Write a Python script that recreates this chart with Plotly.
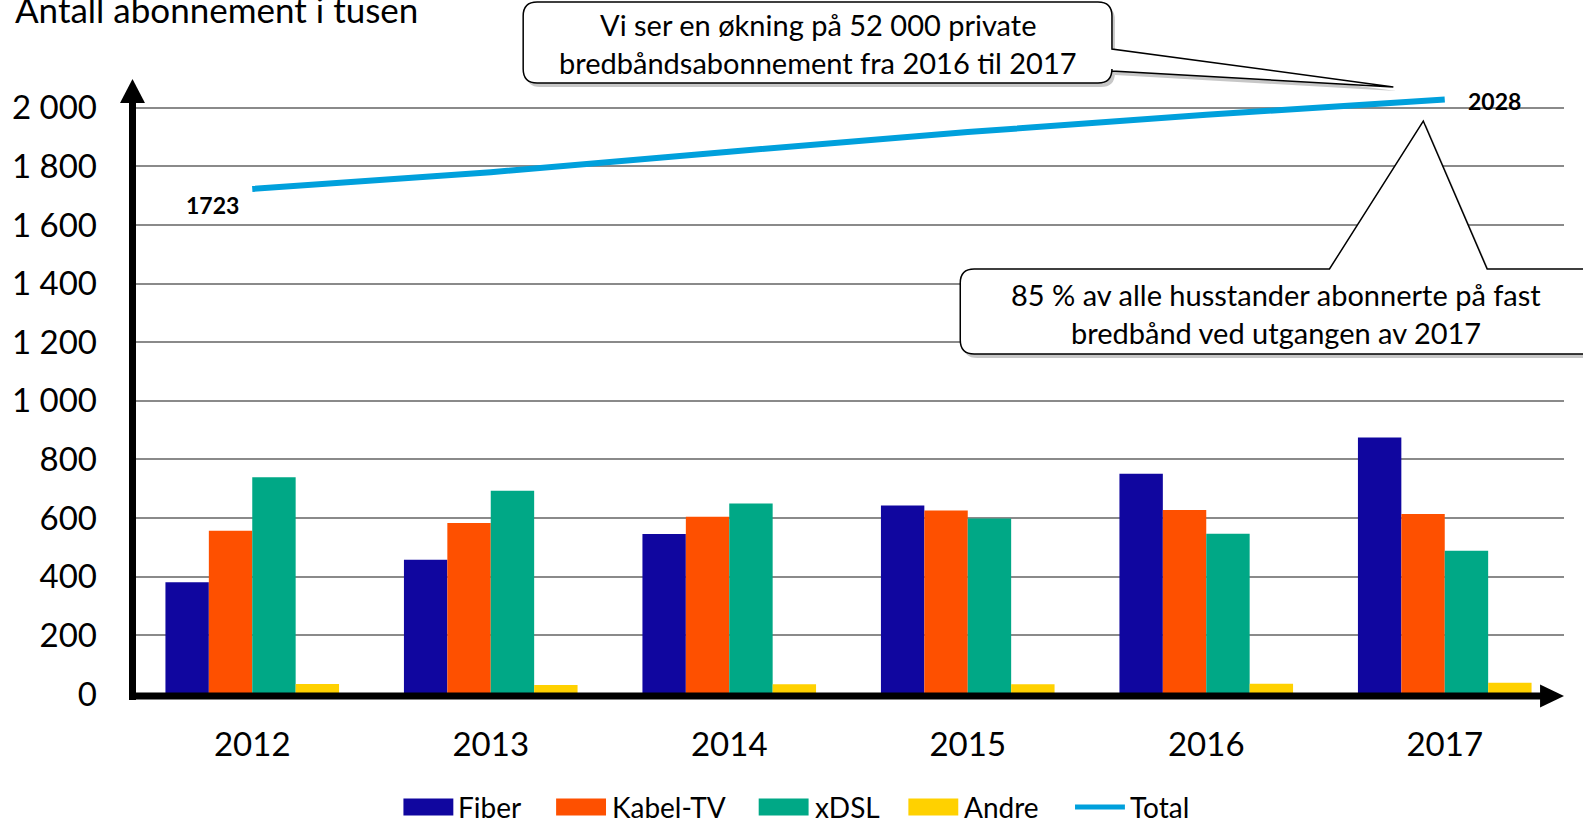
import plotly.graph_objects as go

# ---------------- data ----------------
years = ["2012", "2013", "2014", "2015", "2016", "2017"]
fiber = [381, 458, 546, 643, 751, 875]
kabel_tv = [557, 583, 605, 626, 628, 614]
xdsl = [739, 693, 650, 599, 547, 489]
andre = [34, 31, 33, 33, 35, 38]
total = [1723, 1780, 1850, 1917, 1976, 2028]

y_tickvals = [0, 200, 400, 600, 800, 1000, 1200, 1400, 1600, 1800, 2000]
y_ticktext = ["0", "200", "400", "600", "800", "1 000", "1 200", "1 400", "1 600", "1 800", "2 000"]

series_names = ["Fiber", "Kabel-TV", "xDSL", "Andre"]
series_values = [fiber, kabel_tv, xdsl, andre]
series_colors = ["#10069F", "#FE5000", "#00A886", "#FFD100"]
total_color = "#00A0DC"

title_text = "Antall abonnement i tusen"
callout1 = ["Vi ser en økning på 52 000 private", "bredbåndsabonnement fra 2016 til 2017"]
callout2 = ["85 % av alle husstander abonnerte på fast", "bredbånd ved utgangen av 2017"]

FONT = "Lato"

# ---------------- layout geometry (pixels) ----------------
WIDTH, HEIGHT = 1583, 822
L, R, T, B = 130, 19, 79, 128
W = WIDTH - L - R
H = HEIGHT - T - B
Y_TOP = 2000 * H / (HEIGHT - B - 107.7)


def px(x):
    return (x - L) / W


def py(y):
    return (HEIGHT - B - y) / H


def path(points_cmds):
    out = []
    for cmd in points_cmds:
        if cmd[0] == "Z":
            out.append("Z")
        elif cmd[0] == "Q":
            _, x1, y1, x2, y2 = cmd
            out.append(f"Q{px(x1):.5f},{py(y1):.5f} {px(x2):.5f},{py(y2):.5f}")
        else:
            c, x, y = cmd
            out.append(f"{c}{px(x):.5f},{py(y):.5f}")
    return " ".join(out)


fig = go.Figure()

for name, vals, col in zip(series_names, series_values, series_colors):
    fig.add_trace(go.Bar(
        x=years, y=vals, name=name, marker=dict(color=col, line=dict(width=0)),
        showlegend=False,
    ))

fig.add_trace(go.Scatter(
    x=years, y=total, name="Total", mode="lines",
    line=dict(color=total_color, width=6),
    showlegend=False,
))

shapes = []

r = 14


def box1(dx=0, dy=0):
    l, rr, t, b = 521 + dx, 1111 + dx, 2 + dy, 83 + dy
    return path([
        ("M", l + r, t), ("L", rr - r, t), ("Q", rr, t, rr, t + r),
        ("L", rr, 49 + dy), ("L", 1393 + dx, 87 + dy), ("L", rr, 71 + dy),
        ("L", rr, b - r), ("Q", rr, b, rr - r, b), ("L", l + r, b),
        ("Q", l, b, l, b - r), ("L", l, t + r), ("Q", l, t, l + r, t), ("Z",),
    ])


def box2(dx=0, dy=0):
    l, rr, t, b = 959 + dx, 1600, 269 + dy, 354 + dy
    return path([
        ("M", l + r, t), ("L", 1329 + dx, t), ("L", 1423 + dx, 121 + dy),
        ("L", 1487 + dx, t), ("L", rr, t), ("L", rr, b), ("L", l + r, b),
        ("Q", l, b, l, b - r), ("L", l, t + r), ("Q", l, t, l + r, t), ("Z",),
    ])


for fn in (box1, box2):
    shapes.append(dict(type="path", xref="paper", yref="paper", path=fn(3, 4),
                       fillcolor="rgba(0,0,0,0.22)", line=dict(width=0), layer="above"))
    shapes.append(dict(type="path", xref="paper", yref="paper", path=fn(),
                       fillcolor="white", line=dict(color="black", width=1.5), layer="above"))

# axes with arrows
shapes.append(dict(type="line", xref="paper", yref="paper",
                   x0=px(129.5), x1=px(129.5), y0=py(700), y1=py(98),
                   line=dict(color="black", width=7), layer="above"))
shapes.append(dict(type="path", xref="paper", yref="paper",
                   path=path([("M", 129.5, 79), ("L", 117, 103), ("L", 142, 103), ("Z",)]),
                   fillcolor="black", line=dict(width=0), layer="above"))
shapes.append(dict(type="line", xref="paper", yref="paper",
                   x0=px(126), x1=px(1545), y0=py(696), y1=py(696),
                   line=dict(color="black", width=7), layer="above"))
shapes.append(dict(type="path", xref="paper", yref="paper",
                   path=path([("M", 1564, 696), ("L", 1540, 684.5), ("L", 1540, 707.5), ("Z",)]),
                   fillcolor="black", line=dict(width=0), layer="above"))

annotations = []

# title
annotations.append(dict(xref="paper", yref="paper", x=px(10), y=py(9), xanchor="left",
                        yanchor="middle", text=title_text, showarrow=False,
                        font=dict(family=FONT, size=35, color="black")))

# callout texts
for line, yy in zip(callout1, [24, 62]):
    annotations.append(dict(xref="paper", yref="paper", x=px(816), y=py(yy), xanchor="center",
                            yanchor="middle", text=line, showarrow=False,
                            font=dict(family=FONT, size=29, color="black")))
for line, yy in zip(callout2, [294, 332]):
    annotations.append(dict(xref="paper", yref="paper", x=px(1275), y=py(yy), xanchor="center",
                            yanchor="middle", text=line, showarrow=False,
                            font=dict(family=FONT, size=29, color="black")))

# data labels on the total line (category index positions)
annotations.append(dict(x=0, y=total[0], text=f"<b>{total[0]}</b>", showarrow=False,
                        xshift=-40, yshift=-16, font=dict(family=FONT, size=23, color="black")))
annotations.append(dict(x=len(years) - 1, y=total[-1], text=f"<b>{total[-1]}</b>", showarrow=False,
                        xshift=50, yshift=-2, font=dict(family=FONT, size=23, color="black")))

# custom legend
legend_y = 807
legend_items = [
    ("Fiber", series_colors[0], 401, 457),
    ("Kabel-TV", series_colors[1], 554, 611),
    ("xDSL", series_colors[2], 757, 814),
    ("Andre", series_colors[3], 907, 964),
]
for label, col, x0, tx in legend_items:
    shapes.append(dict(type="rect", xref="paper", yref="paper",
                       x0=px(x0), x1=px(x0 + 50), y0=py(legend_y - 8.5), y1=py(legend_y + 8.5),
                       fillcolor=col, line=dict(width=0)))
    annotations.append(dict(xref="paper", yref="paper", x=px(tx - 3), y=py(legend_y),
                            xanchor="left", yanchor="middle", text=label, showarrow=False,
                            font=dict(family=FONT, size=28, color="black")))
shapes.append(dict(type="line", xref="paper", yref="paper",
                   x0=px(1074), x1=px(1124), y0=py(legend_y), y1=py(legend_y),
                   line=dict(color=total_color, width=5)))
annotations.append(dict(xref="paper", yref="paper", x=px(1127), y=py(legend_y),
                        xanchor="left", yanchor="middle", text="Total", showarrow=False,
                        font=dict(family=FONT, size=28, color="black")))

fig.update_layout(
    width=WIDTH, height=HEIGHT,
    margin=dict(l=L, r=R, t=T, b=B, pad=0),
    paper_bgcolor="white", plot_bgcolor="white",
    barmode="group", bargap=0.272, bargroupgap=0,
    showlegend=False,
    font=dict(family=FONT, color="black"),
    shapes=shapes, annotations=annotations,
    xaxis=dict(type="category", categoryorder="array", categoryarray=years,
               range=[-0.5, 5.5], showgrid=False, showline=False, zeroline=False,
               ticks="", tickfont=dict(family=FONT, size=33, color="black"),
               ticklabelstandoff=28, fixedrange=True),
    yaxis=dict(range=[0, Y_TOP], tickvals=y_tickvals, ticktext=y_ticktext,
               showgrid=True, gridcolor="#8A8A8A", gridwidth=2,
               showline=False, zeroline=False, ticks="",
               tickfont=dict(family=FONT, size=33, color="black"),
               ticklabelstandoff=35, fixedrange=True),
)

fig.write_html(
    "out.html",
    config={"displayModeBar": False},
    post_script="document.body.style.margin='0px';document.body.style.overflow='hidden';",
)
